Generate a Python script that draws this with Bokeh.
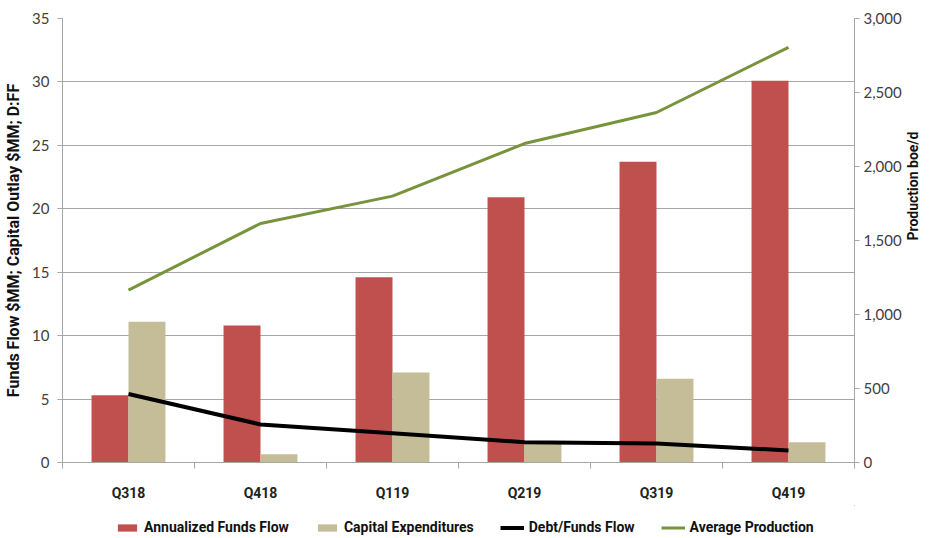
import numpy as np
from bokeh.plotting import figure
from bokeh.layouts import column
from bokeh.models import (ColumnDataSource, Range1d, LinearAxis, FixedTicker,
                          NumeralTickFormatter, Legend, LegendItem)
from bokeh.transform import dodge
from bokeh.embed import file_html
from bokeh.resources import INLINE

quarters = ["Q318", "Q418", "Q119", "Q219", "Q319", "Q419"]
funds_flow = [5.3, 10.8, 14.6, 20.9, 23.7, 30.1]
capex = [11.1, 0.65, 7.1, 1.6, 6.6, 1.6]
debt_ff = [5.4, 3.0, 2.3, 1.6, 1.5, 0.95]
production = [1165, 1615, 1800, 2155, 2365, 2805]
series_names = ["Annualized Funds Flow", "Capital Expenditures",
                "Debt/Funds Flow", "Average Production"]

xpos = np.arange(len(quarters)) + 0.5
src = ColumnDataSource(dict(x=xpos, q=quarters, ff=funds_flow, capex=capex,
                            debt=debt_ff, prod=production))

RED = "#C0504D"
TAN = "#C4BD97"
GREEN = "#77933C"
GRID = "#A6A6A6"
TICKFONT = "Lato"
BOLDFONT = "Roboto"

p = figure(width=931, height=505, output_backend="svg", toolbar_location=None,
           x_range=Range1d(0, len(quarters)), y_range=Range1d(0, 35),
           min_border_left=62, min_border_right=59, min_border_top=18,
           min_border_bottom=43)
p.outline_line_color = None
p.extra_y_ranges = {"prod": Range1d(0, 3000)}

p.vbar(x=dodge("x", -0.14), top="ff", width=0.28, source=src,
       fill_color=RED, line_color=None)
p.vbar(x=dodge("x", 0.14), top="capex", width=0.28, source=src,
       fill_color=TAN, line_color=None)
p.line(x="x", y="debt", source=src, line_color="black", line_width=4)
p.line(x="x", y="prod", source=src, y_range_name="prod",
       line_color=GREEN, line_width=3)

# x axis
xa = p.xaxis[0]
xa.ticker = FixedTicker(ticks=list(xpos), minor_ticks=list(range(len(quarters) + 1)))
xa.major_label_overrides = {float(v): q for v, q in zip(xpos, quarters)}
xa.major_tick_line_color = None
xa.minor_tick_line_color = GRID
xa.minor_tick_out = 6
xa.minor_tick_in = 0
xa.axis_line_color = GRID
xa.major_label_standoff = 16
xa.major_label_text_font = BOLDFONT
xa.major_label_text_font_style = "bold"
xa.major_label_text_font_size = "14px"
xa.major_label_text_color = "#222222"
p.xgrid.grid_line_color = None

# left axis
ya = p.yaxis[0]
ya.ticker = FixedTicker(ticks=list(range(0, 36, 5)))
ya.axis_line_color = GRID
ya.major_tick_line_color = GRID
ya.major_tick_out = 5
ya.major_tick_in = 0
ya.minor_tick_line_color = None
ya.major_label_standoff = 8
ya.major_label_text_font = TICKFONT
ya.major_label_text_font_size = "15px"
ya.major_label_text_color = "#404040"
ya.axis_label = "Funds Flow $MM; Capital Outlay $MM; D:FF"
ya.axis_label_text_font = BOLDFONT
ya.axis_label_text_font_style = "bold"
ya.axis_label_text_font_size = "16px"
ya.axis_label_text_color = "#111111"
ya.axis_label_standoff = 6
p.ygrid.grid_line_color = GRID
p.ygrid.ticker = ya.ticker

# right axis
ra = LinearAxis(y_range_name="prod",
                ticker=FixedTicker(ticks=list(range(0, 3001, 500))),
                formatter=NumeralTickFormatter(format="0,0"))
ra.axis_line_color = GRID
ra.major_tick_line_color = GRID
ra.major_tick_out = 5
ra.major_tick_in = 0
ra.minor_tick_line_color = None
ra.major_label_standoff = 4
ra.major_label_text_font = TICKFONT
ra.major_label_text_font_size = "15px"
ra.major_label_text_color = "#404040"
ra.axis_label = "Production boe/d"
ra.axis_label_text_font = BOLDFONT
ra.axis_label_text_font_style = "bold"
ra.axis_label_text_font_size = "14px"
ra.axis_label_text_color = "#111111"
ra.axis_label_standoff = 8
try:
    ra.axis_label_orientation = np.pi / 2
except Exception:
    pass
p.add_layout(ra, "right")

# legend strip (frames are aligned by the column layout)
lg = figure(width=931, height=33, output_backend="svg", toolbar_location=None,
            x_range=Range1d(-20, -10), y_range=Range1d(-20, -10),
            min_border=0)
lg.outline_line_color = None
lg.axis.visible = False
lg.grid.visible = False
g1 = lg.vbar(x="x", top="ff", width=0.1, source=src, fill_color=RED, line_color=None)
g2 = lg.vbar(x="x", top="capex", width=0.1, source=src, fill_color=TAN, line_color=None)
g3 = lg.line(x="x", y="debt", source=src, line_color="black", line_width=4)
g4 = lg.line(x="x", y="prod", source=src, line_color=GREEN, line_width=3)

legend = Legend(items=[LegendItem(label=n, renderers=[g])
                       for n, g in zip(series_names, [g1, g2, g3, g4])],
                orientation="horizontal", location=(53, 3))
legend.border_line_color = None
legend.background_fill_alpha = 0
legend.padding = 2
legend.margin = 0
legend.spacing = 26
legend.glyph_width = 24
legend.glyph_height = 9
legend.label_standoff = 5
legend.label_text_font = BOLDFONT
legend.label_text_font_style = "bold"
legend.label_text_font_size = "14px"
legend.label_text_color = "#111111"
lg.add_layout(legend, "center")

open("out.html", "w").write(file_html(column(p, lg, spacing=0), INLINE))
